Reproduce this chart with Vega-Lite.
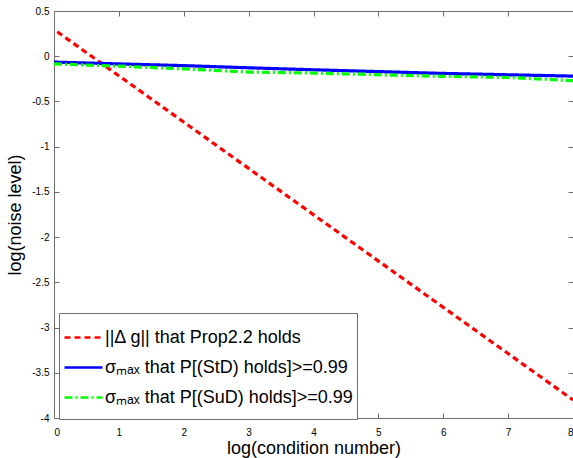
{
  "$schema": "https://vega.github.io/schema/vega-lite/v6.json",
  "width": 519,
  "height": 407,
  "autosize": {"type": "none"},
  "padding": {"left": 54, "top": 11, "right": 0, "bottom": 40},
  "background": "white",
  "config": {
    "view": {"stroke": "#6e6e6e", "strokeWidth": 1},
    "font": "Liberation Sans",
    "axis": {
      "grid": false,
      "domainColor": "#6e6e6e",
      "tickColor": "#6e6e6e",
      "labelColor": "#000000",
      "labelFont": "Liberation Sans",
      "labelFontSize": 10,
      "titleFont": "Liberation Sans",
      "titleFontSize": 18,
      "titleFontWeight": "normal",
      "titleColor": "#000000"
    }
  },
  "data": {
    "values": [
      {"series": "||Δ g|| that Prop2.2 holds", "x": 0.05, "y": 0.27},
      {"series": "||Δ g|| that Prop2.2 holds", "x": 8, "y": -3.8},
      {"series": "σₘₐₓ that P[(StD) holds]>=0.99", "x": 0, "y": -0.065},
      {"series": "σₘₐₓ that P[(StD) holds]>=0.99", "x": 1, "y": -0.085},
      {"series": "σₘₐₓ that P[(StD) holds]>=0.99", "x": 2, "y": -0.104},
      {"series": "σₘₐₓ that P[(StD) holds]>=0.99", "x": 3, "y": -0.128},
      {"series": "σₘₐₓ that P[(StD) holds]>=0.99", "x": 4, "y": -0.15},
      {"series": "σₘₐₓ that P[(StD) holds]>=0.99", "x": 5, "y": -0.17},
      {"series": "σₘₐₓ that P[(StD) holds]>=0.99", "x": 6, "y": -0.19},
      {"series": "σₘₐₓ that P[(StD) holds]>=0.99", "x": 7, "y": -0.205},
      {"series": "σₘₐₓ that P[(StD) holds]>=0.99", "x": 8, "y": -0.22},
      {"series": "σₘₐₓ that P[(SuD) holds]>=0.99", "x": 0, "y": -0.085},
      {"series": "σₘₐₓ that P[(SuD) holds]>=0.99", "x": 1, "y": -0.11},
      {"series": "σₘₐₓ that P[(SuD) holds]>=0.99", "x": 2, "y": -0.14},
      {"series": "σₘₐₓ that P[(SuD) holds]>=0.99", "x": 3, "y": -0.175},
      {"series": "σₘₐₓ that P[(SuD) holds]>=0.99", "x": 4, "y": -0.186},
      {"series": "σₘₐₓ that P[(SuD) holds]>=0.99", "x": 5, "y": -0.205},
      {"series": "σₘₐₓ that P[(SuD) holds]>=0.99", "x": 6, "y": -0.222},
      {"series": "σₘₐₓ that P[(SuD) holds]>=0.99", "x": 7, "y": -0.235},
      {"series": "σₘₐₓ that P[(SuD) holds]>=0.99", "x": 8, "y": -0.27}
    ]
  },
  "layer": [
    {
      "mark": {"type": "line", "strokeWidth": 3.2, "clip": true},
      "encoding": {
        "x": {
          "field": "x", "type": "quantitative",
          "scale": {"domain": [0, 8], "nice": false, "zero": false},
          "axis": {
            "title": "log(condition number)",
            "values": [0, 1, 2, 3, 4, 5, 6, 7, 8],
            "tickSize": -5,
            "labelPadding": 14,
            "titlePadding": 2,
            "labelExpr": "datum.value + ''"
          }
        },
        "y": {
          "field": "y", "type": "quantitative",
          "scale": {"domain": [-4, 0.5], "nice": false, "zero": false},
          "axis": {
            "title": "log(noise level)",
            "values": [0.5, 0, -0.5, -1, -1.5, -2, -2.5, -3, -3.5, -4],
            "tickSize": -5,
            "labelPadding": 10,
            "titlePadding": 7,
            "labelExpr": "datum.value + ''"
          }
        },
        "color": {
          "field": "series", "type": "nominal",
          "scale": {
            "domain": ["||Δ g|| that Prop2.2 holds", "σₘₐₓ that P[(StD) holds]>=0.99", "σₘₐₓ that P[(SuD) holds]>=0.99"],
            "range": ["#ff0000", "#0000ff", "#00ff00"]
          },
          "legend": {
            "title": " ",
            "titleOrient": "bottom",
            "titleFontSize": 8,
            "titlePadding": 0,
            "orient": "none",
            "legendX": 5,
            "legendY": 302,
            "padding": 4,
            "strokeColor": "#6e6e6e",
            "fillColor": "white",
            "symbolType": "stroke",
            "symbolSize": 1444,
            "symbolStrokeWidth": 2.5,
            "labelFont": "Liberation Sans",
            "labelFontSize": 18,
            "labelColor": "#000000",
            "labelLimit": 400,
            "labelOffset": 1,
            "rowPadding": -12
          }
        },
        "strokeDash": {
          "field": "series", "type": "nominal",
          "scale": {
            "domain": ["||Δ g|| that Prop2.2 holds", "σₘₐₓ that P[(StD) holds]>=0.99", "σₘₐₓ that P[(SuD) holds]>=0.99"],
            "range": [[6, 4], [1, 0], [8, 3, 2, 3]]
          },
          "legend": null
        }
      }
    },
    {
      "mark": {"type": "line", "opacity": 0},
      "encoding": {
        "x": {
          "field": "x", "type": "quantitative",
          "axis": {"orient": "top", "title": null, "labels": false, "domain": false, "tickSize": -5, "values": [0, 1, 2, 3, 4, 5, 6, 7, 8]}
        },
        "y": {
          "field": "y", "type": "quantitative",
          "axis": {"orient": "right", "title": null, "labels": false, "domain": false, "tickSize": -5, "values": [0.5, 0, -0.5, -1, -1.5, -2, -2.5, -3, -3.5, -4]}
        },
        "detail": {"field": "series", "type": "nominal"}
      }
    }
  ],
  "resolve": {"axis": {"x": "independent", "y": "independent"}}
}
